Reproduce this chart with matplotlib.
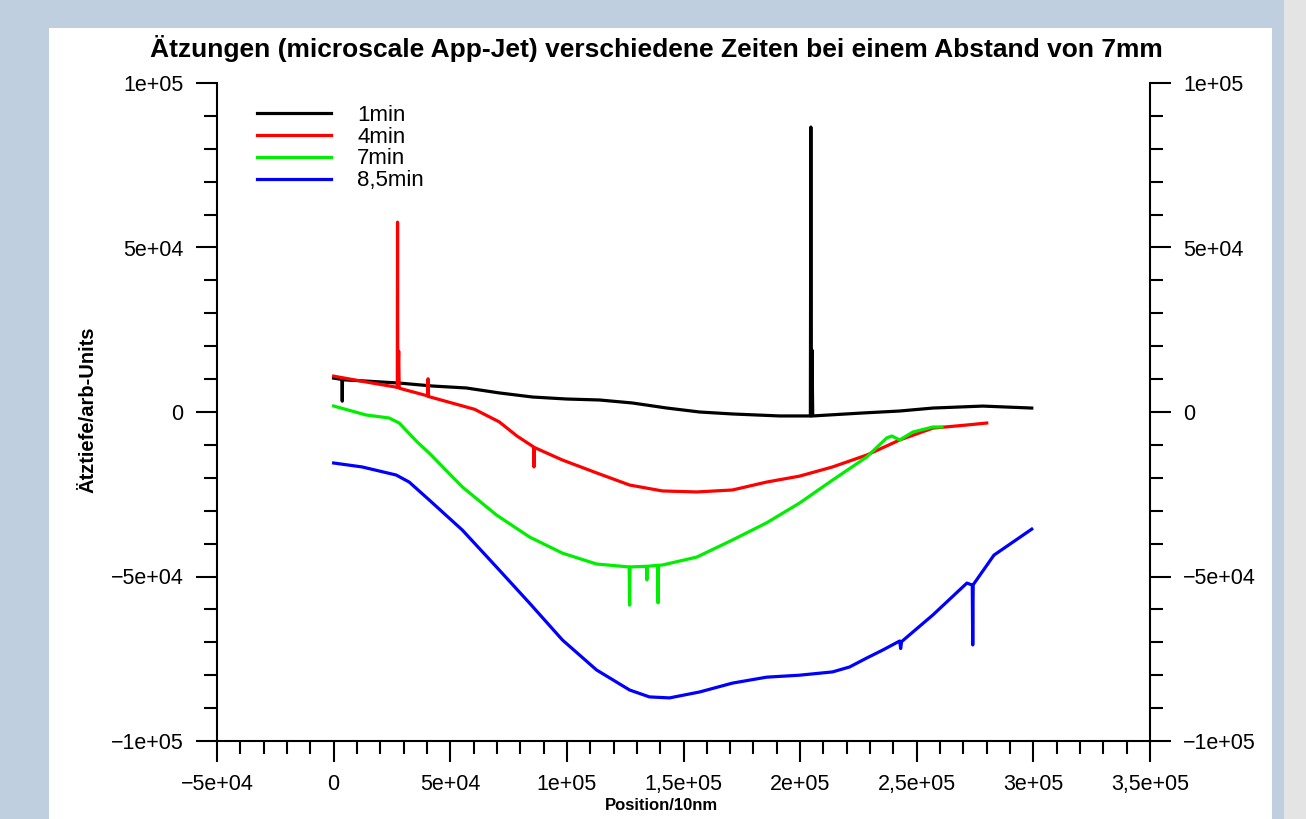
import numpy as np
import matplotlib
matplotlib.use("Agg")
import matplotlib.pyplot as plt
from matplotlib.patches import Rectangle
from matplotlib.ticker import MultipleLocator, FixedLocator

plt.rcParams['font.family'] = ['Liberation Sans', 'DejaVu Sans']

# --- data (Position/10nm, Ätztiefe/arb-Units) ---
x_1min = [0, 3600, 3700, 3800, 13950, 28100, 42300, 56900, 71000, 85200, 99800,
          114000, 128100, 142700, 156900, 171000, 191200, 204400, 204600, 204800,
          205100, 205400, 226800, 242700, 256900, 278300, 299300]
y_1min = [10300, 9900, 3300, 9800, 9400, 8800, 7900, 7300, 5800, 4560, 3950,
          3650, 2740, 1220, 0, -600, -1200, -1200, 86600, -1200,
          18800, -1200, -300, 300, 1200, 1800, 1200]

x_4min = [0, 13950, 27300, 27400, 27500, 27900, 28100, 28300, 40300, 40500, 40700,
          56900, 60500, 71000, 78600, 85700, 85900, 86100, 98100, 112700, 126900,
          141000, 155700, 171000, 185600, 199700, 213900, 228500, 242700, 256900,
          271500, 280000]
y_4min = [10900, 9120, 7500, 57700, 7500, 18500, 7300, 7200, 4900, 10100, 4700,
          1520, 800, -3000, -7300, -10600, -16700, -10800, -14600, -18500, -22200,
          -24000, -24300, -23700, -21300, -19500, -16700, -13100, -8500, -4900,
          -3950, -3350]

x_7min = [0, 13950, 23800, 28100, 35800, 41000, 55200, 69800, 84000, 98100, 112700,
          126700, 126900, 127100, 134100, 134300, 134500, 138900, 139100, 139300,
          141000, 155700, 171000, 185600, 199700, 213900, 228500, 237100, 239300,
          242700, 248300, 256900, 260800]
y_7min = [1820, -910, -1820, -3340, -9100, -12500, -22800, -31300, -38000, -42900, -46200,
          -47100, -58700, -47100, -46900, -51000, -46900, -46600, -58000, -46600,
          -46500, -44100, -38900, -33700, -27700, -20700, -13700, -7900, -7300,
          -8500, -6100, -4560, -4560]

x_85min = [0, 12200, 26800, 32400, 41000, 55200, 69800, 84000, 98100, 112700, 126900,
           135400, 144000, 156900, 171000, 185600, 199700, 213900, 221200, 228500,
           235300, 242700, 243100, 243500, 256900, 271500, 273800, 274000, 274200,
           283100, 299300]
y_85min = [-15500, -16700, -19150, -21300, -26750, -35900, -47100, -58100, -69300, -78400, -84500,
           -86600, -86900, -85100, -82400, -80600, -80000, -79000, -77500, -74800,
           -72400, -69600, -71900, -69800, -61700, -52000, -52600, -70800, -52500,
           -43500, -35600]

series_labels = ['1min', '4min', '7min', '8,5min']
series_colors = ['#000000', '#ff0000', '#00ee00', '#0000ff']

xtick_vals = [-50000, 0, 50000, 100000, 150000, 200000, 250000, 300000, 350000]
xtick_labels = ['\u22125e+04', '0', '5e+04', '1e+05', '1,5e+05', '2e+05', '2,5e+05', '3e+05', '3,5e+05']
ytick_vals = [-100000, -50000, 0, 50000, 100000]
ytick_labels = ['\u22121e+05', '\u22125e+04', '0', '5e+04', '1e+05']

W, H = 1306, 819
fig = plt.figure(figsize=(W / 100, H / 100), dpi=100)
fig.patch.set_facecolor('#bfcfdf')
# white page + grey strip on the right
fig.patches.append(Rectangle((49 / W, 0), (1272 - 49) / W, 1 - 28 / H,
                             transform=fig.transFigure, facecolor='white', edgecolor='none', zorder=-10))
fig.patches.append(Rectangle((1284 / W, 0), 1 - 1284 / W, 1,
                             transform=fig.transFigure, facecolor='#e4e4e4', edgecolor='none', zorder=-10))

ax = fig.add_axes([217 / W, 1 - 741 / H, (1150 - 217) / W, (741 - 83) / H])
ax.set_facecolor('none')
ax.set_zorder(5)

for xs, ys, lab, col in zip([x_1min, x_4min, x_7min, x_85min],
                            [y_1min, y_4min, y_7min, y_85min],
                            series_labels, series_colors):
    ax.plot(xs, ys, color=col, lw=2.3, label=lab)

ax.set_xlim(-50000, 350000)
ax.set_ylim(-100000, 100000)

ax.xaxis.set_major_locator(FixedLocator(xtick_vals))
ax.set_xticklabels(xtick_labels)
ax.yaxis.set_major_locator(FixedLocator(ytick_vals))
ax.set_yticklabels(ytick_labels)
ax.xaxis.set_minor_locator(MultipleLocator(10000))
ax.yaxis.set_minor_locator(MultipleLocator(10000))

ax.spines['top'].set_visible(False)
for s in ['left', 'right', 'bottom']:
    ax.spines[s].set_linewidth(1.5)

ax.tick_params(which='both', direction='out', width=1.5, left=True, right=True,
               labelleft=True, labelright=True, top=False)
ax.tick_params(which='major', length=15, labelsize=15.5, pad=9)
ax.tick_params(which='minor', length=9.5)

leg = ax.legend(loc='upper left', bbox_to_anchor=(0.043, 0.967), frameon=False,
                fontsize=16, handlelength=3.33, handletextpad=1.17, labelspacing=0.04,
                borderpad=0, borderaxespad=0)

fig.text(656.5 / W, 1 - 48 / H,
         'Ätzungen (microscale App-Jet) verschiedene Zeiten bei einem Abstand von 7mm',
         ha='center', va='center', fontsize=19, fontweight='bold')
fig.text(661 / W, 1 - 805 / H, 'Position/10nm', ha='center', va='center',
         fontsize=12, fontweight='bold')
fig.text(88 / W, 1 - 410 / H, 'Ätztiefe/arb-Units', ha='center', va='center',
         rotation=90, fontsize=14.5, fontweight='bold')

fig.savefig('out.png', dpi=100, facecolor=fig.get_facecolor())
